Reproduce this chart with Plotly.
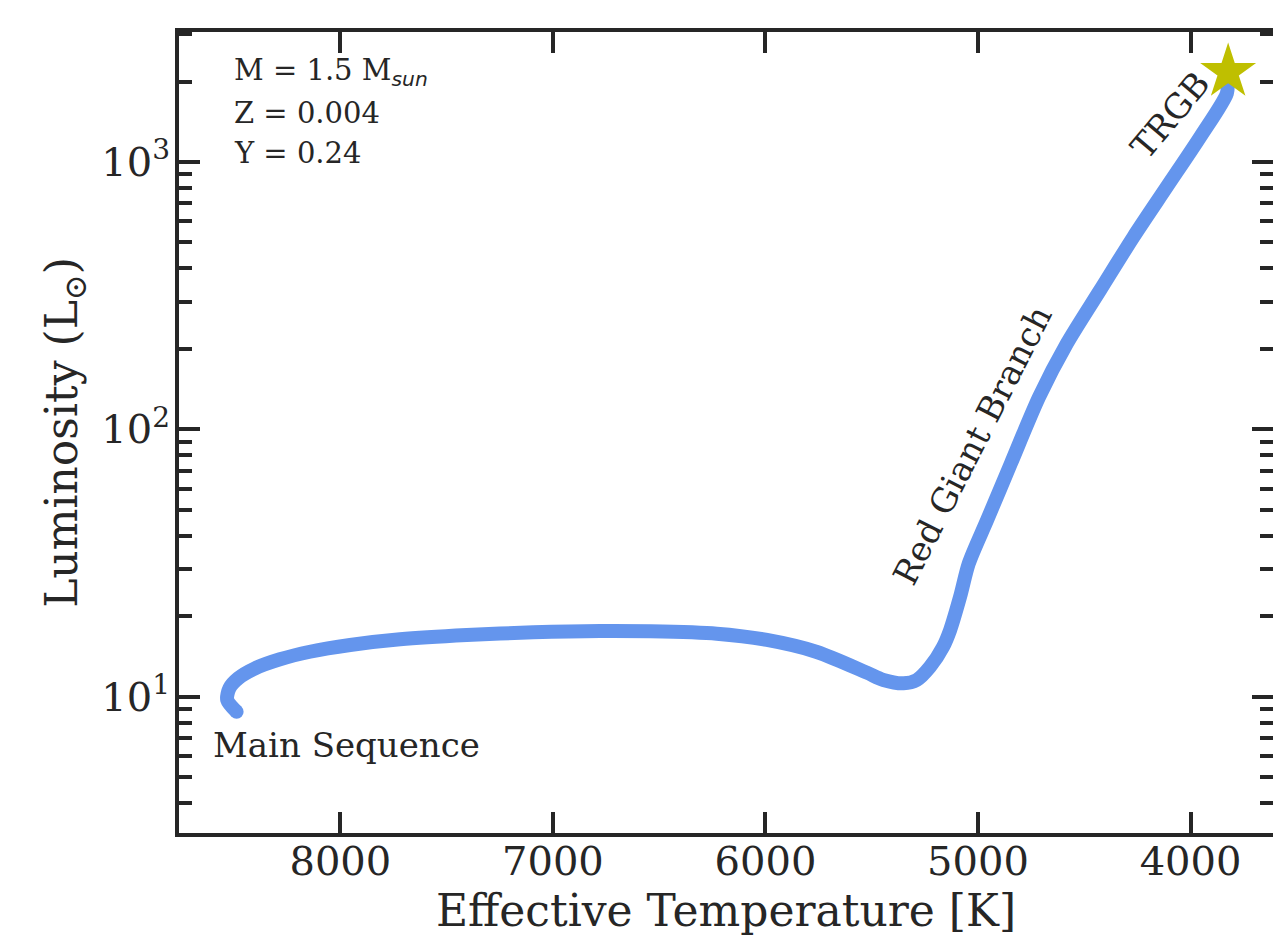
import plotly.graph_objects as go

# Evolutionary track
teff = [8488, 8532, 8522, 8480, 8401, 8284, 8143, 7954, 7719, 7405, 7092, 6778,
        6543, 6229, 5993, 5758, 5523, 5445, 5350, 5288, 5225, 5164, 5131, 5084,
        5043, 4957, 4845, 4712, 4581, 4425, 4268, 4111, 3954, 3829, 3826]
lum = [8.79, 9.72, 10.75, 11.72, 12.77, 13.80, 14.73, 15.61, 16.39, 17.01, 17.41, 17.61,
       17.56, 17.21, 16.30, 14.70, 12.30, 11.55, 11.22, 11.55, 12.95, 15.38, 17.76, 23.66,
       31.55, 45.8, 74.6, 132.4, 209.8, 332, 525.6, 808.5, 1243, 1807, 2000]

trgb_teff = [3823]
trgb_lum = [2171]

x_ticks = [8000, 7000, 6000, 5000, 4000]
y_ticks = [10, 100, 1000]
y_ticktext = ["10<sup>1</sup>", "10<sup>2</sup>", "10<sup>3</sup>"]
y_minor = [m * 10 ** e for e in range(0, 4) for m in range(2, 10)]

INK = "#262626"
FONT = "DejaVu Serif"
BLUE = "#6495ED"
STAR = "#BFBF00"

fig = go.Figure()
fig.add_trace(go.Scatter(
    x=teff, y=lum, mode="lines",
    line=dict(color=BLUE, width=14, shape="spline", smoothing=0.8),
    hoverinfo="skip", showlegend=False))
# round cap at the start of the track
fig.add_trace(go.Scatter(
    x=teff[:1], y=lum[:1], mode="markers",
    marker=dict(color=BLUE, size=14, line=dict(width=0)),
    hoverinfo="skip", showlegend=False))
fig.add_trace(go.Scatter(
    x=trgb_teff, y=trgb_lum, mode="markers",
    marker=dict(symbol="star", color=STAR, size=42, line=dict(width=0)),
    hoverinfo="skip", showlegend=False))

ann_font = dict(family=FONT, size=29, color=INK)
lab_font = dict(family=FONT, size=34, color=INK)
annotations = [
    dict(x=8510, y=3.3366, xref="x", yref="y",
         text="M = 1.5 M<sub><i><span style=\"font-family:'DejaVu Sans'\">sun</span></i></sub>",
         showarrow=False, xanchor="left", yanchor="middle", font=ann_font),
    dict(x=8510, y=3.1833, xref="x", yref="y", text="Z = 0.004",
         showarrow=False, xanchor="left", yanchor="middle", font=ann_font),
    dict(x=8510, y=3.0355, xref="x", yref="y", text="Y = 0.24",
         showarrow=False, xanchor="left", yanchor="middle", font=ann_font),
    dict(x=8610, y=0.819, xref="x", yref="y", text="Main Sequence",
         showarrow=False, xanchor="left", yanchor="middle", font=lab_font),
    dict(x=5025, y=1.94, xref="x", yref="y", text="Red Giant Branch",
         showarrow=False, textangle=-63, font=lab_font),
    dict(x=4095, y=3.175, xref="x", yref="y", text="TRGB",
         showarrow=False, textangle=-50, font=lab_font),
]

# Plot area runs to the right border of the picture; the right spine of the
# reference falls just outside the visible area (margins must not auto-expand).
fig.update_layout(
    width=1273, height=941,
    margin=dict(l=179, r=0, t=32, b=108, autoexpand=False),
    paper_bgcolor="white", plot_bgcolor="white",
    font=dict(family=FONT, color=INK),
    annotations=annotations,
)
fig.update_xaxes(
    range=[8759, 3612], autorange=False, automargin=False,
    tickmode="array", tickvals=x_ticks,
    ticks="inside", ticklen=21, tickwidth=4, tickcolor=INK,
    showline=True, linewidth=4, linecolor=INK, mirror="ticks",
    showgrid=False, zeroline=False,
    ticklabelstandoff=-10,
    tickfont=dict(family=FONT, size=40, color=INK),
    title=dict(text="Effective Temperature [K]", font=dict(family=FONT, size=44, color=INK), standoff=13),
)
fig.update_yaxes(
    type="log", range=[0.4902, 3.4863], autorange=False, automargin=False,
    tickmode="array", tickvals=y_ticks, ticktext=y_ticktext,
    ticks="inside", ticklen=21, tickwidth=4, tickcolor=INK,
    minor=dict(tickmode="array", tickvals=y_minor, ticks="inside", ticklen=13,
               tickwidth=4, tickcolor=INK, showgrid=False),
    showline=True, linewidth=4, linecolor=INK, mirror="ticks",
    showgrid=False, zeroline=False,
    ticklabelstandoff=-3,
    tickfont=dict(family=FONT, size=40, color=INK),
    title=dict(text="Luminosity (L<sub>⊙</sub>)", font=dict(family=FONT, size=44, color=INK), standoff=11),
)

fig.write_html("out.html")
